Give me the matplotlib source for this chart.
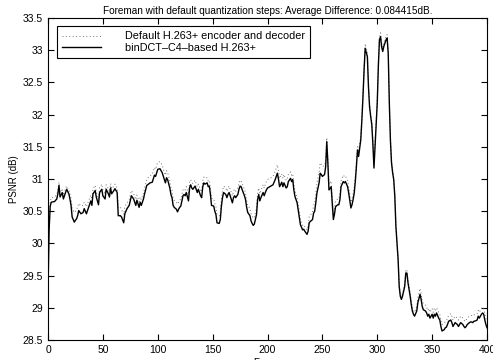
import numpy as np
import matplotlib
matplotlib.use("Agg")
import matplotlib.pyplot as plt
from matplotlib.ticker import FuncFormatter

# solid line: binDCT-C4-based H.263+
frames_bin = [0, 1, 2, 3, 6, 8, 9, 10, 11, 13, 14, 15, 17, 19, 20, 21, 22, 24, 25, 26,
              27, 28, 30, 32, 33, 35, 37, 39, 40, 41, 43, 44, 46, 47, 49, 50, 52, 53, 55, 56,
              57, 58, 60, 61, 63, 64, 66, 67, 69, 70, 72, 74, 76, 78, 80, 81, 83, 84, 85, 87,
              88, 90, 93, 95, 97, 98, 100, 102, 104, 106, 107, 108, 109, 111, 112, 113, 114, 115, 117, 118,
              119, 120, 121, 123, 124, 125, 126, 128, 129, 130, 131, 132, 134, 135, 136, 137, 139, 140, 141, 142,
              143, 145, 146, 147, 148, 149, 151, 152, 153, 154, 156, 157, 158, 159, 160, 162, 163, 164, 165, 166,
              168, 169, 170, 171, 173, 174, 175, 176, 177, 179, 180, 181, 182, 184, 185, 186, 187, 188, 190, 191,
              192, 193, 194, 196, 197, 198, 199, 200, 202, 205, 207, 209, 210, 211, 213, 214, 215, 217, 218, 219,
              221, 222, 223, 224, 225, 227, 228, 229, 230, 232, 233, 234, 236, 237, 238, 239, 241, 242, 243, 244,
              245, 247, 248, 249, 250, 252, 253, 254, 255, 256, 258, 259, 260, 261, 262, 264, 265, 266, 267, 269,
              270, 271, 273, 274, 276, 277, 278, 279, 280, 281, 282, 283, 285, 286, 287, 288, 289, 291, 292, 293,
              294, 295, 296, 297, 298, 300, 301, 302, 303, 304, 305, 306, 308, 309, 310, 311, 312, 313, 314, 315,
              316, 317, 319, 320, 321, 322, 323, 325, 326, 327, 328, 330, 331, 332, 333, 334, 336, 337, 339, 340,
              341, 342, 344, 345, 346, 347, 348, 350, 351, 352, 353, 354, 356, 357, 358, 359, 361, 362, 363, 364,
              365, 367, 368, 369, 370, 371, 373, 374, 375, 376, 378, 379, 380, 381, 382, 384, 385, 386, 387, 388,
              390, 391, 392, 393, 395, 396, 397, 398, 399, 400]
psnr_bin = [29.25, 30.20, 30.58, 30.64, 30.65, 30.69, 30.77, 30.90, 30.72, 30.79, 30.69, 30.74, 30.84, 30.77, 30.69, 30.59, 30.41, 30.33, 30.36, 30.38,
            30.43, 30.51, 30.46, 30.48, 30.54, 30.46, 30.56, 30.66, 30.59, 30.77, 30.82, 30.72, 30.60, 30.79, 30.84, 30.74, 30.69, 30.84, 30.77, 30.72,
            30.86, 30.77, 30.82, 30.85, 30.79, 30.43, 30.43, 30.41, 30.32, 30.46, 30.54, 30.59, 30.74, 30.69, 30.59, 30.67, 30.56, 30.64, 30.59, 30.69,
            30.77, 30.90, 30.94, 30.95, 31.06, 31.04, 31.15, 31.16, 31.10, 30.99, 30.94, 31.02, 30.99, 30.86, 30.76, 30.71, 30.59, 30.56, 30.53, 30.49,
            30.53, 30.56, 30.58, 30.74, 30.76, 30.74, 30.79, 30.66, 30.86, 30.91, 30.86, 30.84, 30.89, 30.84, 30.79, 30.84, 30.74, 30.71, 30.88, 30.94,
            30.92, 30.94, 30.88, 30.89, 30.76, 30.59, 30.58, 30.50, 30.45, 30.32, 30.31, 30.37, 30.58, 30.71, 30.79, 30.76, 30.71, 30.76, 30.79, 30.74,
            30.63, 30.71, 30.74, 30.71, 30.76, 30.84, 30.89, 30.88, 30.83, 30.74, 30.68, 30.56, 30.48, 30.43, 30.35, 30.31, 30.28, 30.30, 30.45, 30.68,
            30.76, 30.66, 30.71, 30.79, 30.74, 30.79, 30.83, 30.86, 30.88, 30.91, 30.99, 31.09, 31.00, 30.88, 30.95, 30.88, 30.94, 30.86, 30.88, 30.96,
            31.01, 30.96, 30.99, 30.83, 30.73, 30.63, 30.52, 30.42, 30.29, 30.21, 30.22, 30.19, 30.14, 30.19, 30.32, 30.34, 30.37, 30.47, 30.50, 30.63,
            30.78, 30.94, 31.09, 31.07, 31.04, 31.07, 31.19, 31.58, 31.25, 30.83, 30.88, 30.63, 30.37, 30.45, 30.57, 30.60, 30.60, 30.68, 30.88, 30.96,
            30.94, 30.96, 30.88, 30.78, 30.55, 30.60, 30.68, 30.78, 30.96, 31.19, 31.45, 31.35, 31.61, 31.92, 32.28, 32.69, 33.03, 32.90, 32.43, 32.12,
            31.97, 31.85, 31.55, 31.17, 31.50, 32.18, 32.75, 33.16, 33.21, 33.05, 32.98, 33.06, 33.16, 33.19, 32.95, 32.18, 31.60, 31.25, 31.10, 30.99,
            30.73, 30.26, 29.75, 29.33, 29.18, 29.13, 29.18, 29.33, 29.54, 29.54, 29.39, 29.18, 29.05, 28.95, 28.90, 28.87, 28.95, 29.08, 29.21, 29.13,
            29.02, 28.97, 28.95, 28.92, 28.87, 28.90, 28.84, 28.90, 28.84, 28.90, 28.87, 28.92, 28.84, 28.81, 28.71, 28.64, 28.66, 28.69, 28.70, 28.74,
            28.79, 28.81, 28.77, 28.71, 28.74, 28.77, 28.74, 28.71, 28.74, 28.77, 28.74, 28.71, 28.69, 28.71, 28.74, 28.77, 28.78, 28.78, 28.77, 28.79,
            28.80, 28.81, 28.87, 28.84, 28.90, 28.92, 28.90, 28.81, 28.74, 28.69]

# dotted line: default H.263+ encoder and decoder (same frames)
psnr_def = [29.30, 30.25, 30.65, 30.71, 30.72, 30.76, 30.83, 30.95, 30.79, 30.85, 30.75, 30.80, 30.89, 30.83, 30.76, 30.70, 30.55, 30.48, 30.50, 30.53,
            30.56, 30.62, 30.58, 30.59, 30.64, 30.57, 30.66, 30.75, 30.69, 30.85, 30.90, 30.80, 30.69, 30.87, 30.92, 30.83, 30.77, 30.91, 30.85, 30.80,
            30.93, 30.85, 30.89, 30.92, 30.86, 30.55, 30.56, 30.53, 30.45, 30.57, 30.63, 30.68, 30.82, 30.77, 30.68, 30.75, 30.65, 30.72, 30.68, 30.78,
            30.86, 31.00, 31.05, 31.07, 31.18, 31.15, 31.26, 31.27, 31.22, 31.10, 31.06, 31.13, 31.10, 30.97, 30.87, 30.82, 30.70, 30.67, 30.64, 30.61,
            30.64, 30.67, 30.69, 30.83, 30.85, 30.83, 30.88, 30.76, 30.95, 30.99, 30.95, 30.93, 30.98, 30.93, 30.88, 30.92, 30.83, 30.80, 30.97, 31.03,
            31.01, 31.02, 30.97, 30.98, 30.86, 30.70, 30.69, 30.62, 30.57, 30.45, 30.43, 30.49, 30.68, 30.81, 30.89, 30.86, 30.81, 30.86, 30.89, 30.84,
            30.74, 30.81, 30.84, 30.81, 30.86, 30.93, 30.98, 30.97, 30.92, 30.84, 30.78, 30.67, 30.59, 30.54, 30.46, 30.42, 30.39, 30.41, 30.55, 30.78,
            30.86, 30.77, 30.82, 30.91, 30.86, 30.92, 30.96, 30.99, 31.01, 31.04, 31.12, 31.22, 31.13, 31.01, 31.08, 31.01, 31.07, 30.98, 31.00, 31.07,
            31.11, 31.06, 31.08, 30.92, 30.82, 30.71, 30.60, 30.50, 30.36, 30.28, 30.29, 30.26, 30.21, 30.27, 30.41, 30.44, 30.48, 30.59, 30.63, 30.77,
            30.93, 31.10, 31.25, 31.23, 31.20, 31.20, 31.30, 31.64, 31.33, 30.92, 30.97, 30.72, 30.45, 30.53, 30.66, 30.69, 30.69, 30.77, 30.97, 31.06,
            31.04, 31.05, 30.97, 30.87, 30.64, 30.69, 30.77, 30.87, 31.04, 31.26, 31.50, 31.42, 31.67, 31.97, 32.33, 32.75, 33.10, 32.95, 32.48, 32.17,
            32.02, 31.90, 31.60, 31.22, 31.55, 32.23, 32.80, 33.20, 33.27, 33.12, 33.05, 33.12, 33.22, 33.24, 33.00, 32.22, 31.64, 31.29, 31.13, 31.02,
            30.76, 30.28, 29.77, 29.36, 29.21, 29.17, 29.22, 29.37, 29.59, 29.59, 29.44, 29.24, 29.11, 29.01, 28.96, 28.93, 29.02, 29.16, 29.30, 29.22,
            29.11, 29.06, 29.04, 29.01, 28.96, 28.99, 28.93, 28.99, 28.93, 28.99, 28.96, 29.00, 28.93, 28.90, 28.80, 28.74, 28.76, 28.79, 28.80, 28.84,
            28.88, 28.91, 28.87, 28.81, 28.84, 28.87, 28.84, 28.81, 28.84, 28.87, 28.84, 28.81, 28.79, 28.81, 28.84, 28.87, 28.88, 28.88, 28.87, 28.89,
            28.90, 28.91, 28.96, 28.93, 28.99, 29.01, 28.99, 28.90, 28.83, 28.78]

xticks = [0, 50, 100, 150, 200, 250, 300, 350, 400]
yticks = [28.5, 29, 29.5, 30, 30.5, 31, 31.5, 32, 32.5, 33, 33.5]

plt.rcParams['font.family'] = ['Liberation Sans', 'DejaVu Sans']

fig = plt.figure(figsize=(4.93, 3.6), dpi=100)
ax = fig.add_axes([48/493, 20/360, 439/493, 322/360])

ax.plot(frames_bin, psnr_def, color='0.45', linestyle=(0, (1, 2.5)), linewidth=0.7,
        label='Default H.263+ encoder and decoder')
ax.plot(frames_bin, psnr_bin, color='black', linestyle='-', linewidth=1.0,
        label='binDCT\u2013C4\u2013based H.263+')

ax.set_xlim(0, 400)
ax.set_ylim(28.5, 33.5)
ax.set_xticks(xticks)
ax.set_yticks(yticks)
ax.yaxis.set_major_formatter(FuncFormatter(lambda v, p: f"{v:g}"))
ax.tick_params(direction='in', top=True, right=True, labelsize=7.5, length=4, width=0.8)
for s in ax.spines.values():
    s.set_linewidth(0.8)

ax.set_title('Foreman with default quantization steps: Average Difference: 0.084415dB.',
             fontsize=7.2, pad=3)
ax.set_xlabel('Frame', fontsize=7, labelpad=2)
ax.set_ylabel('PSNR (dB)', fontsize=7, labelpad=3)

leg = ax.legend(loc='upper left', bbox_to_anchor=(0.02, 0.975), fontsize=7.8,
                frameon=True, fancybox=False, edgecolor='black', framealpha=1,
                handlelength=3.6, handletextpad=2.2, borderpad=0.5, labelspacing=0.1,
                borderaxespad=0)
leg.get_frame().set_linewidth(0.8)

fig.savefig('out.png', dpi=100)
